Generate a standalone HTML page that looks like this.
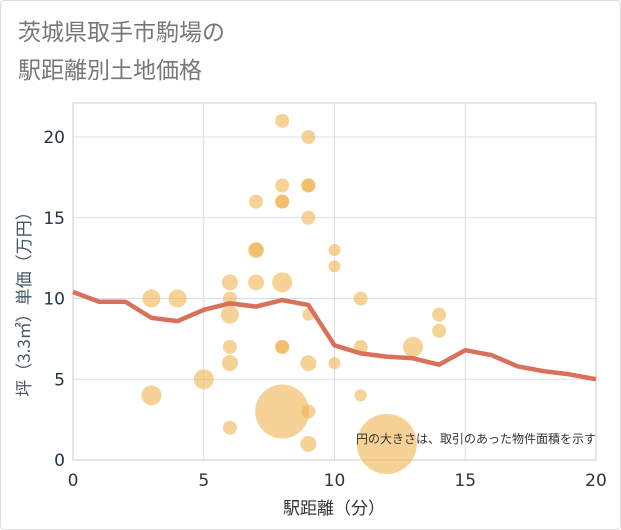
<!DOCTYPE html>
<html><head><meta charset="utf-8"><style>
body{margin:0;background:#fff;}
svg{display:block;font-family:"Liberation Sans","Noto Sans CJK JP",sans-serif;}
</style></head><body>
<svg id="c" width="621" height="530">
<rect x="0.5" y="0.5" width="620" height="529" fill="#fff" stroke="#ddd" rx="4"/>
<text x="18" y="40" font-size="23" fill="#777">茨城県取手市駒場の</text>
<text x="18" y="78" font-size="23" fill="#777">駅距離別土地価格</text>
<g id="grid"></g>
<rect x="73" y="103" width="523" height="357" fill="none" stroke="#ccc"/>
<g id="bub"></g>
<g id="ln"></g>
<g id="ax"></g>
<text x="334" y="514" font-size="17" fill="#333" text-anchor="middle" font-family="'Noto Sans CJK JP',sans-serif">駅距離（分）</text>
<text transform="translate(30,300) rotate(-90)" font-size="17" fill="#456" text-anchor="middle" font-family="'Noto Sans CJK JP',sans-serif">坪（3.3㎡）単価（万円）</text>
<text x="596" y="443" font-size="12" fill="#333" text-anchor="end">円の大きさは、取引のあった物件面積を示す</text>
</svg>
<script>
const xTicks=[0,5,10,15,20];
const yTicks=[0,5,10,15,20];
const lineX=[0,1,2,3,4,5,6,7,8,9,10,11,12,13,14,15,16,17,18,19,20];
const lineY=[10.4,9.8,9.8,8.8,8.6,9.3,9.7,9.5,9.9,9.6,7.1,6.6,6.4,6.3,5.9,6.8,6.5,5.8,5.5,5.3,5.0];
const bubX=[3,4,3,5,6,6,6,6,6,6,7,7,7,7,8,8,8,8,8,8,8,8,9,9,9,9,9,9,9,9,10,10,10,11,11,11,12,13,14,14];
const bubY=[10,10,4,5,11,10,9,7,6,2,16,13,13,11,21,17,16,16,11,7,7,3,20,17,17,15,9,6,3,1,13,12,6,10,7,4,1,7,9,8];
const bubR=[9,9,10,10,8,7,9,7,8,7,7,8,7,8,7,7,7,7,10,7,7,27,7,7,7,7,6,8,7,8,6,6,6,7,7,6,30,10,7,7];
const NS="http://www.w3.org/2000/svg";
const sx=v=>73+v*26.15, sy=v=>460-v*16.15;
function mk(t,a,p){const e=document.createElementNS(NS,t);for(const k in a)e.setAttribute(k,a[k]);document.getElementById(p).appendChild(e);return e;}
xTicks.forEach(v=>{
 const g=mk('line',{x1:sx(v),x2:sx(v),y1:103,y2:460,stroke:'#d5e0ea'},'grid');
 
 
 const t=mk('text',{x:sx(v),y:486,'font-size':17,fill:'#333','text-anchor':'middle','font-family':'DejaVu Sans,sans-serif'},'ax');t.textContent=v;
 
 
});
yTicks.forEach(v=>{
 const g=mk('line',{x1:73,x2:596,y1:sy(v),y2:sy(v),stroke:'#d5e0ea'},'grid');
 
 
 const t=mk('text',{x:65,y:sy(v)+6,'font-size':17,fill:'#234','text-anchor':'end','font-family':'DejaVu Sans,sans-serif'},'ax');t.textContent=v;
 
 
});
bubX.forEach((x,i)=>{
 const c=mk('circle',{cx:sx(x),cy:sy(bubY[i]),r:bubR[i],fill:'rgba(240,180,80,0.6)'},'bub');
 
 
});
const p=mk('polyline',{points:lineX.map((x,i)=>sx(x)+','+sy(lineY[i])).join(' '),fill:'none',stroke:'#d9705a','stroke-width':4.5,'stroke-linejoin':'round'},'ln');


</script>
</body></html>
